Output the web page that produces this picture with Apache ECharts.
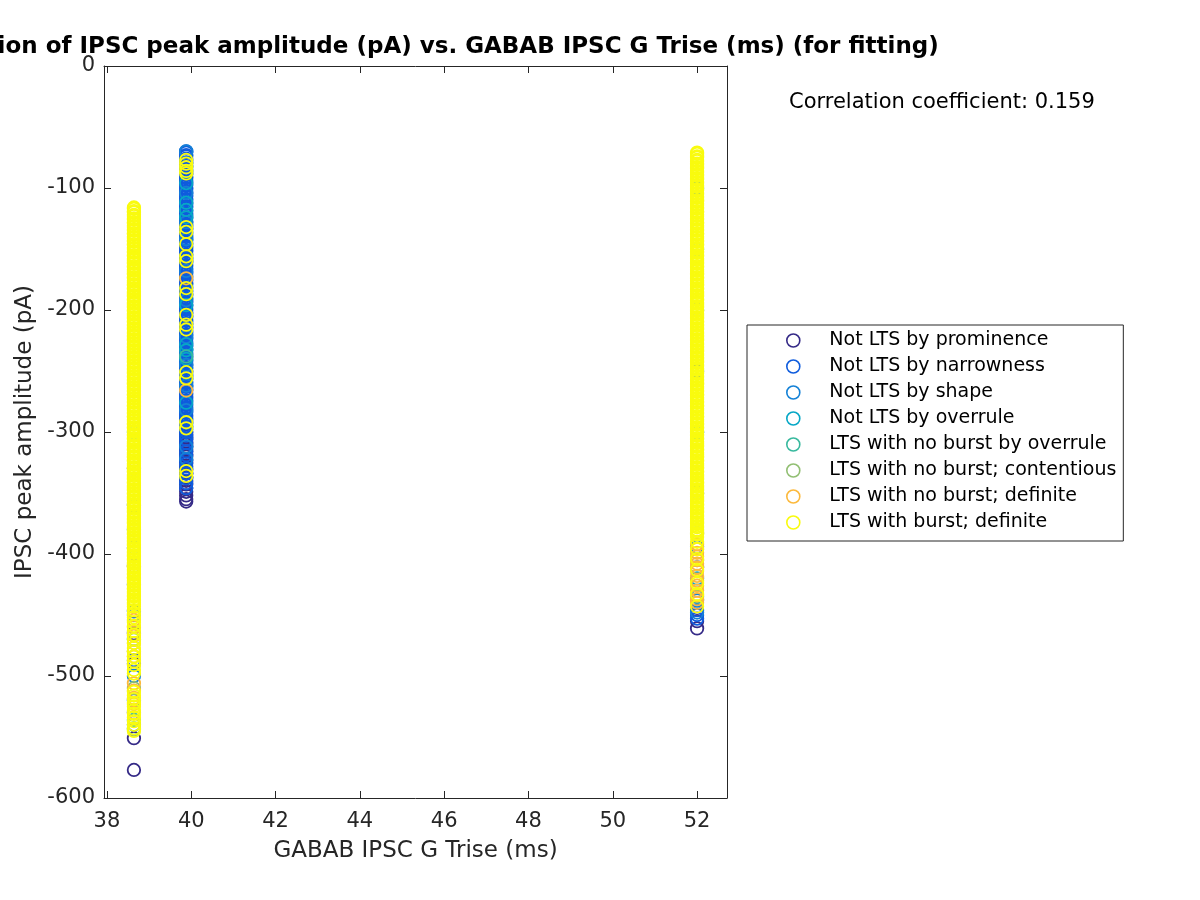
<!DOCTYPE html>
<html>
<head>
<meta charset="utf-8">
<script src="https://cdn.jsdelivr.net/npm/echarts@6/dist/echarts.min.js"></script>
<style>html,body{margin:0;padding:0;background:#fff;}#chart{width:1200px;height:900px;}</style>
</head>
<body>
<div id="chart"></div>
<script>
// ---- data ----
const categories = [
  'Not LTS by prominence',
  'Not LTS by narrowness',
  'Not LTS by shape',
  'Not LTS by overrule',
  'LTS with no burst by overrule',
  'LTS with no burst; contentious',
  'LTS with no burst; definite',
  'LTS with burst; definite'
];
const colors = ['#352A87', '#0F5CDD', '#1481D6', '#06A7C6', '#38B99E', '#92BF73', '#FCB93C', '#F9FB0E'];
// x positions (GABAB IPSC G Trise, ms) of the three columns
const xCols = [38.64, 39.88, 52.0];
const xTicks = [38, 40, 42, 44, 46, 48, 50, 52];
const yTicks = [0, -100, -200, -300, -400, -500, -600];

// column at 38.64 ms
const promA = [-330, -410, -465, -490, -551, -577];
const narrA = [-360, -395, -425, -447, -487, -520, -540];
const shapeA = [-380, -450, -500, -530];
const overA = [-300, -470, -536];
const nbOverA = [-543];
const contA = [-480, -510, -544];
const defA = [-454, -460, -467, -473, -480, -484, -506, -512, -518, -523, -530];
const burstA = [-116,-117,-119,-120,-122,-123,-125,-126,-128,-129,-131,-132,-134,-135,-137,-138,-140,-141,-143,-144,-146,-147,-149,-150,-152,-153,-155,-156,-158,-159,-161,-162,-164,-165,-167,-168,-170,-171,-173,-174,-176,-177,-179,-180,-182,-183,-185,-186,-188,-189,-191,-192,-194,-195,-197,-198,-200,-201,-203,-204,-206,-207,-209,-210,-212,-213,-215,-216,-218,-219,-221,-222,-224,-225,-227,-228,-230,-231,-233,-234,-236,-237,-239,-240,-242,-243,-245,-246,-248,-249,-251,-252,-254,-255,-257,-258,-260,-261,-263,-264,-266,-267,-269,-270,-272,-273,-275,-276,-278,-279,-281,-282,-284,-285,-287,-288,-290,-291,-293,-294,-296,-297,-299,-300,-302,-303,-305,-306,-308,-309,-311,-312,-314,-315,-317,-318,-320,-321,-323,-324,-326,-327,-329,-330,-332,-333,-335,-336,-338,-339,-341,-342,-344,-345,-347,-348,-350,-351,-353,-354,-356,-357,-359,-360,-362,-363,-365,-366,-368,-369,-371,-372,-374,-375,-377,-378,-380,-381,-383,-384,-386,-387,-389,-390,-392,-393,-395,-396,-398,-399,-401,-402,-404,-405,-407,-408,-410,-411,-413,-414,-416,-417,-419,-420,-422,-423,-425,-426,-428,-429,-431,-432,-434,-435,-437,-438,-440,-441,-443,-446,-449,-452,-456,-459,-463,-466,-470,-473,-477,-480,-484,-488,-491,-495,-498,-513,-516,-519,-522,-525,-528,-531,-534,-537,-540,-543,-545];

// column at 39.88 ms
const promB = [-300,-302,-304,-306,-308,-310,-312,-314,-316,-318,-320,-323,-325,-328,-331,-334,-337,-340,-343,-346,-349,-352,-355,-357];
const narrB = [-70,-71,-73,-74,-76,-77,-79,-80,-82,-83,-85,-86,-88,-89,-91,-92,-94,-95,-97,-98,-100,-101,-103,-104,-106,-107,-109,-110,-112,-113,-115,-116,-118,-119,-121,-122,-124,-125,-127,-128,-130,-131,-133,-134,-136,-137,-139,-140,-142,-143,-145,-146,-148,-149,-151,-152,-154,-155,-157,-158,-160,-161,-163,-164,-166,-167,-169,-170,-172,-173,-175,-176,-178,-179,-181,-182,-184,-185,-187,-188,-190,-191,-193,-194,-196,-197,-199,-200,-202,-203,-205,-206,-208,-209,-211,-212,-214,-215,-217,-218,-220,-221,-223,-224,-226,-227,-229,-230,-232,-233,-235,-236,-238,-239,-241,-242,-244,-245,-247,-248,-250,-251,-253,-254,-256,-257,-259,-260,-262,-263,-265,-266,-268,-269,-271,-272,-274,-275,-277,-278,-280,-281,-283,-284,-286,-287,-289,-290,-292,-293,-295,-296,-298,-300,-303,-306,-309,-312,-316,-319,-323,-326,-330,-334,-338,-342,-346];
const shapeB = [-70, -104, -128, -142, -168, -192, -222, -245, -262, -282, -312, -322];
const overB = [-96, -112, -118, -124, -196, -228, -233, -240, -276];
const nbOverB = [-238];
const contB = [];
const defB = [-174, -266];
const burstB = [-77, -80, -83, -86, -88, -132, -136, -146, -156, -160, -182, -187, -204, -212, -216, -251, -256, -292, -297, -332, -336];

// column at 52 ms
const promC = [-455, -461];
const narrC = [-200, -250, -300, -350, -411, -446, -450, -453];
const shapeC = [-100, -394, -438, -448];
const overC = [-150, -300, -420];
const nbOverC = [-435];
const contC = [-383, -405];
const defC = [-392, -396, -399, -402, -405, -408, -411, -414, -418, -422, -426, -430, -434, -437, -440];
const burstC = [-71,-72,-74,-75,-77,-78,-80,-81,-83,-84,-86,-87,-89,-90,-92,-93,-95,-96,-98,-99,-101,-102,-104,-105,-107,-108,-110,-111,-113,-114,-116,-117,-119,-120,-122,-123,-125,-126,-128,-129,-131,-132,-134,-135,-137,-138,-140,-141,-143,-144,-146,-147,-149,-150,-152,-153,-155,-156,-158,-159,-161,-162,-164,-165,-167,-168,-170,-171,-173,-174,-176,-177,-179,-180,-182,-183,-185,-186,-188,-189,-191,-192,-194,-195,-197,-198,-200,-201,-203,-204,-206,-207,-209,-210,-212,-213,-215,-216,-218,-219,-221,-222,-224,-225,-227,-228,-230,-231,-233,-234,-236,-237,-239,-240,-242,-243,-245,-246,-248,-249,-251,-252,-254,-255,-257,-258,-260,-261,-263,-264,-266,-267,-269,-270,-272,-273,-275,-276,-278,-279,-281,-282,-284,-285,-287,-288,-290,-291,-293,-294,-296,-297,-299,-300,-302,-303,-305,-306,-308,-309,-311,-312,-314,-315,-317,-318,-320,-321,-323,-324,-326,-327,-329,-330,-332,-333,-335,-336,-338,-339,-341,-342,-344,-345,-347,-348,-350,-351,-353,-354,-356,-357,-359,-360,-362,-363,-365,-366,-368,-369,-371,-372,-374,-375,-377,-378,-380,-381,-383,-384,-386,-390,-396,-404,-413,-424,-433,-443];

const colA = [promA, narrA, shapeA, overA, nbOverA, contA, defA, burstA];
const colB = [promB, narrB, shapeB, overB, nbOverB, contB, defB, burstB];
const colC = [promC, narrC, shapeC, overC, nbOverC, contC, defC, burstC];

// ---- chart ----
const FONT = 'DejaVu Sans';
const AX = '#262626';
const chart = echarts.init(document.getElementById('chart'), null, {renderer: 'canvas'});

const series = categories.map((name, i) => ({
  type: 'scatter',
  name: name,
  symbol: 'circle',
  symbolSize: 12.5,
  silent: true,
  large: false,
  itemStyle: {color: 'rgba(0,0,0,0)', borderColor: colors[i], borderWidth: 1.8, opacity: 1},
  emphasis: {disabled: true},
  data: [].concat(
    colA[i].map(y => [xCols[0], y]),
    colB[i].map(y => [xCols[1], y]),
    colC[i].map(y => [xCols[2], y])
  )
}));

const axisCommon = {
  axisLine: {show: true, onZero: false, lineStyle: {color: AX, width: 1}},
  splitLine: {show: false}
};

const option = {
  animation: false,
  backgroundColor: '#ffffff',
  grid: {left: 104, right: 473, top: 66, bottom: 102, containLabel: false},
  xAxis: [
    Object.assign({}, axisCommon, {
      type: 'value', position: 'bottom', min: 37.93, max: 52.71,
      name: 'GABAB IPSC G Trise (ms)', nameLocation: 'middle', nameGap: 42,
      nameTextStyle: {fontFamily: FONT, fontSize: 23, color: AX},
      axisTick: {show: true, inside: true, length: 7, lineStyle: {color: AX}, customValues: xTicks},
      axisLabel: {show: true, margin: 13, fontFamily: FONT, fontSize: 21, color: AX, customValues: xTicks}
    }),
    Object.assign({}, axisCommon, {
      type: 'value', position: 'top', min: 37.93, max: 52.71,
      axisTick: {show: true, inside: true, length: 7, lineStyle: {color: AX}, customValues: xTicks},
      axisLabel: {show: false}
    })
  ],
  yAxis: [
    Object.assign({}, axisCommon, {
      type: 'value', position: 'left', min: -600, max: 0,
      name: 'IPSC peak amplitude (pA)', nameLocation: 'middle', nameGap: 64,
      nameTextStyle: {fontFamily: FONT, fontSize: 23, color: AX},
      axisTick: {show: true, inside: true, length: 7, lineStyle: {color: AX}, customValues: yTicks},
      axisLabel: {show: true, margin: 9, fontFamily: FONT, fontSize: 21, color: AX, customValues: yTicks}
    }),
    Object.assign({}, axisCommon, {
      type: 'value', position: 'right', min: -600, max: 0,
      axisTick: {show: true, inside: true, length: 7, lineStyle: {color: AX}, customValues: yTicks},
      axisLabel: {show: false}
    })
  ],
  legend: {
    orient: 'vertical',
    left: 747, top: 325,
    padding: [6, 7, 9, 39],
    itemWidth: 62, itemHeight: 13, itemGap: 7,
    borderColor: AX, borderWidth: 1, backgroundColor: '#ffffff',
    selectedMode: false,
    textStyle: {fontFamily: FONT, fontSize: 19, color: '#000000'},
    data: categories.map((name, i) => ({
      name: name, icon: 'circle',
      itemStyle: {color: 'rgba(0,0,0,0)', borderColor: colors[i], borderWidth: 1.6}
    }))
  },
  graphic: [
    {type: 'text', x: 415.5, y: 47, silent: true,
     style: {text: 'Correlation of IPSC peak amplitude (pA) vs. GABAB IPSC G Trise (ms) (for fitting)',
             font: 'bold 23px "DejaVu Sans"', fill: '#000000', textAlign: 'center', textVerticalAlign: 'middle'}},
    {type: 'text', x: 789, y: 103, silent: true,
     style: {text: 'Correlation coefficient: 0.159', font: '21px "DejaVu Sans"', fill: '#000000',
             textAlign: 'left', textVerticalAlign: 'middle'}}
  ],
  series: series
};
chart.setOption(option);
</script>
</body>
</html>
